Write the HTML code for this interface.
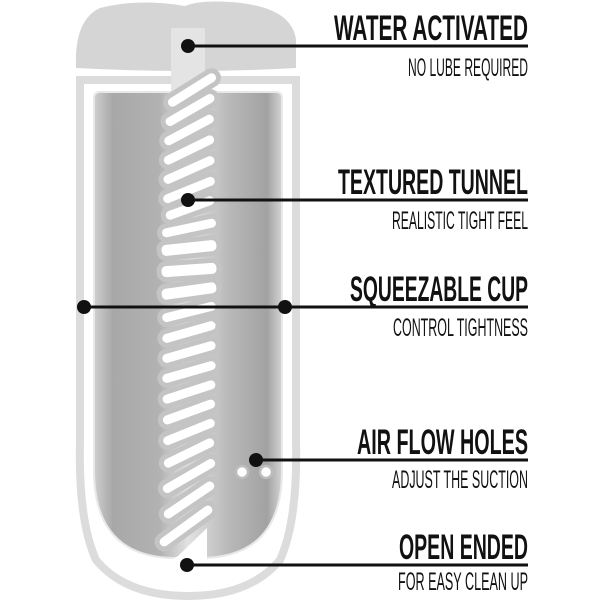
<!DOCTYPE html>
<html><head><style>html,body{margin:0;padding:0;background:#fff}</style></head>
<body>
<svg width="600" height="600" viewBox="0 0 600 600" xmlns="http://www.w3.org/2000/svg">
<defs>
<linearGradient id="g" x1="0" x2="1" y1="0" y2="0">
<stop offset="0" stop-color="#cfcfcf"/>
<stop offset="0.1" stop-color="#a8a8a8"/>
<stop offset="0.35" stop-color="#b2b2b2"/>
<stop offset="0.5" stop-color="#e2e2e2"/>
<stop offset="0.72" stop-color="#b8b8b8"/>
<stop offset="0.92" stop-color="#a2a2a2"/>
<stop offset="1" stop-color="#d4d4d4"/>
</linearGradient>
</defs>
<!-- outer shell -->
<path d="M80 80 L296 80 L296 440 Q298 520 280 560 Q250 596 188 596 Q126 596 96 560 Q78 520 80 440 Z" fill="#fff" stroke="#dcdcdc" stroke-width="8"/>
<!-- cap -->
<path d="M76 68 Q74 20 100 8 Q140 -2 185 6 Q200 0 230 2 Q292 6 296 40 L296 68 Q188 74 76 68 Z" fill="#d5d5d5"/>
<!-- inner tube -->
<path d="M94 98 Q94 92 100 92 L276 92 Q282 92 282 98 L282 470 Q282 558 200 558 L176 558 Q94 558 94 470 Z" fill="url(#g)" stroke="#e8e8e8" stroke-width="2"/>
<!-- top slot -->
<rect x="171" y="28" width="34" height="72" fill="#e4e4e4"/>
<!-- bottom opening -->
<path d="M168 562 L207 562 L207 528 L178 556 Z" fill="#fff"/>
<!-- ribs -->
<g fill="#fff" stroke="#c4c4c4" stroke-width="5">
<rect x="-30" y="-7" width="60" height="14" rx="7" transform="translate(192,90) rotate(-32)"/>
<rect x="-30" y="-7" width="60" height="14" rx="7" transform="translate(190,110) rotate(-30)"/>
<rect x="-30" y="-7" width="60" height="14" rx="7" transform="translate(189,130) rotate(-28)"/>
<rect x="-30" y="-7" width="60" height="14" rx="7" transform="translate(189,150) rotate(-26)"/>
<rect x="-30" y="-7" width="60" height="14" rx="7" transform="translate(189,170) rotate(-24)"/>
<rect x="-30" y="-7" width="60" height="14" rx="7" transform="translate(189,190) rotate(-22)"/>
<rect x="-28" y="-7" width="56" height="14" rx="7" transform="translate(190,208) rotate(-20)"/>
<rect x="-30" y="-7" width="60" height="14" rx="7" transform="translate(189,228) rotate(-12)"/>
<rect x="-30" y="-8" width="60" height="16" rx="7" transform="translate(189,248) rotate(-6)"/>
<rect x="-30" y="-8" width="60" height="16" rx="7" transform="translate(189,270) rotate(-4)"/>
<rect x="-30" y="-8" width="60" height="16" rx="7" transform="translate(189,291) rotate(-8)"/>
<rect x="-30" y="-7" width="60" height="14" rx="7" transform="translate(189,312) rotate(-14)"/>
<rect x="-30" y="-7" width="60" height="14" rx="7" transform="translate(189,332) rotate(-16)"/>
<rect x="-30" y="-7" width="60" height="14" rx="7" transform="translate(189,352) rotate(-16)"/>
<rect x="-30" y="-7" width="60" height="14" rx="7" transform="translate(189,372) rotate(-16)"/>
<rect x="-30" y="-7" width="60" height="14" rx="7" transform="translate(189,392) rotate(-18)"/>
<rect x="-30" y="-7" width="60" height="14" rx="7" transform="translate(189,412) rotate(-20)"/>
<rect x="-30" y="-7" width="60" height="14" rx="7" transform="translate(189,432) rotate(-22)"/>
<rect x="-30" y="-7" width="60" height="14" rx="7" transform="translate(189,453) rotate(-26)"/>
<rect x="-32" y="-7" width="64" height="14" rx="7" transform="translate(189,476) rotate(-30)"/>
<rect x="-32" y="-7" width="64" height="14" rx="7" transform="translate(189,500) rotate(-34)"/>
<rect x="-34" y="-7" width="68" height="14" rx="7" transform="translate(186,526) rotate(-36)"/>
</g>
<!-- air holes -->
<circle cx="242" cy="472" r="6" fill="#fff" stroke="#bdbdbd" stroke-width="2.5"/>
<circle cx="266" cy="472" r="6" fill="#fff" stroke="#bdbdbd" stroke-width="2.5"/>
<!-- lines & dots -->
<g stroke="#111" stroke-width="3">
<line x1="188" y1="46" x2="528" y2="46"/>
<line x1="188" y1="200" x2="528" y2="200"/>
<line x1="84" y1="307" x2="528" y2="307"/>
<line x1="256" y1="460" x2="528" y2="460"/>
<line x1="187" y1="565" x2="528" y2="565"/>
</g>
<g fill="#111">
<circle cx="188" cy="46" r="7"/>
<circle cx="188" cy="200" r="7"/>
<circle cx="84" cy="307" r="7"/>
<circle cx="285" cy="307" r="7"/>
<circle cx="256" cy="460" r="7"/>
<circle cx="187" cy="565" r="7"/>
</g>
<g font-family="Liberation Sans, sans-serif" fill="#111" text-anchor="end">
<g font-weight="bold" font-size="35">
<text x="528" y="40" textLength="194" lengthAdjust="spacingAndGlyphs">WATER ACTIVATED</text>
<text x="528" y="194" textLength="190" lengthAdjust="spacingAndGlyphs">TEXTURED TUNNEL</text>
<text x="528" y="301" textLength="178" lengthAdjust="spacingAndGlyphs">SQUEEZABLE CUP</text>
<text x="528" y="454" textLength="171" lengthAdjust="spacingAndGlyphs">AIR FLOW HOLES</text>
<text x="528" y="559" textLength="129" lengthAdjust="spacingAndGlyphs">OPEN ENDED</text>
</g>
<g font-size="25">
<text x="528" y="76" textLength="120" lengthAdjust="spacingAndGlyphs">NO LUBE REQUIRED</text>
<text x="528" y="229" textLength="136" lengthAdjust="spacingAndGlyphs">REALISTIC TIGHT FEEL</text>
<text x="528" y="336" textLength="135" lengthAdjust="spacingAndGlyphs">CONTROL TIGHTNESS</text>
<text x="528" y="488" textLength="136" lengthAdjust="spacingAndGlyphs">ADJUST THE SUCTION</text>
<text x="528" y="590" textLength="130" lengthAdjust="spacingAndGlyphs">FOR EASY CLEAN UP</text>
</g>
</g>
</svg>
</body></html>
